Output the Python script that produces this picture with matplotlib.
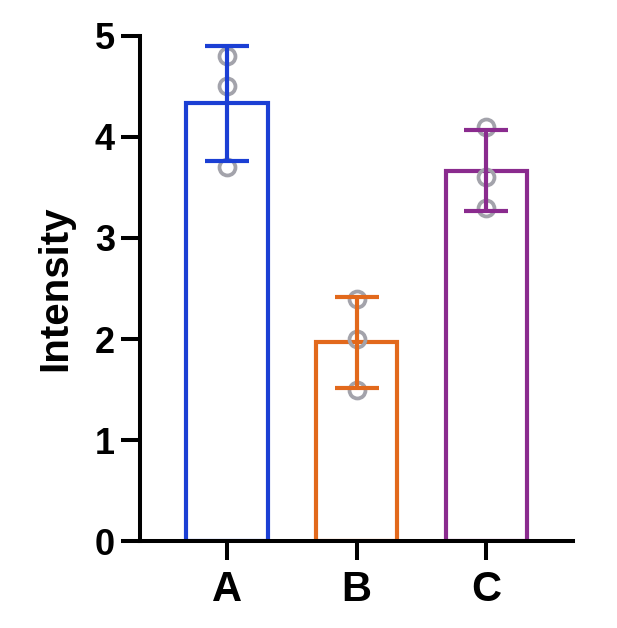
import numpy as np
import matplotlib.pyplot as plt

plt.rcParams['font.family'] = ['Liberation Sans', 'DejaVu Sans']
plt.rcParams['font.weight'] = 'bold'

# replicate values per group
groups = ['A', 'B', 'C']
points_a = [4.8, 4.5, 3.7]
points_b = [2.4, 2.0, 1.5]
points_c = [4.1, 3.6, 3.3]
colors = ['#1b3fd4', '#e2691c', '#8a2b8e']

reps = [points_a, points_b, points_c]
means = [np.mean(r) for r in reps]
sds = [np.std(r, ddof=1) for r in reps]
x = np.arange(len(groups))

fig = plt.figure(figsize=(6.17, 6.28), dpi=100)
ax = fig.add_axes([0.227, 0.1385, 0.702, 0.8042])

lw = 3.0
for i in range(len(groups)):
    ax.bar(x[i], means[i], width=0.63, facecolor='none', edgecolor=colors[i],
           linewidth=lw, zorder=2)
    ax.plot([x[i]] * len(reps[i]), reps[i], 'o', markersize=11.5,
            markerfacecolor='none', markeredgecolor='#a3a3ab',
            markeredgewidth=2.7, zorder=3)
    ax.errorbar(x[i], means[i], yerr=sds[i], color=colors[i], elinewidth=lw,
                capsize=15.5, capthick=lw, fmt='none', zorder=4)

ax.set_xlim(-0.669, 2.669)
ax.set_ylim(0, 5)
ax.set_yticks([0, 1, 2, 3, 4, 5])
ax.set_xticks(x)
ax.set_xticklabels(groups)

for s in ['top', 'right']:
    ax.spines[s].set_visible(False)
for s in ['left', 'bottom']:
    ax.spines[s].set_linewidth(2.9)
    ax.spines[s].set_zorder(5)

ax.tick_params(axis='both', length=14, width=2.9)
ax.tick_params(axis='y', labelsize=26, pad=4)
ax.tick_params(axis='x', labelsize=30, pad=7)
ax.set_ylabel('Intensity', fontsize=29, fontweight='bold', labelpad=15)

fig.savefig('out.png', dpi=100)
